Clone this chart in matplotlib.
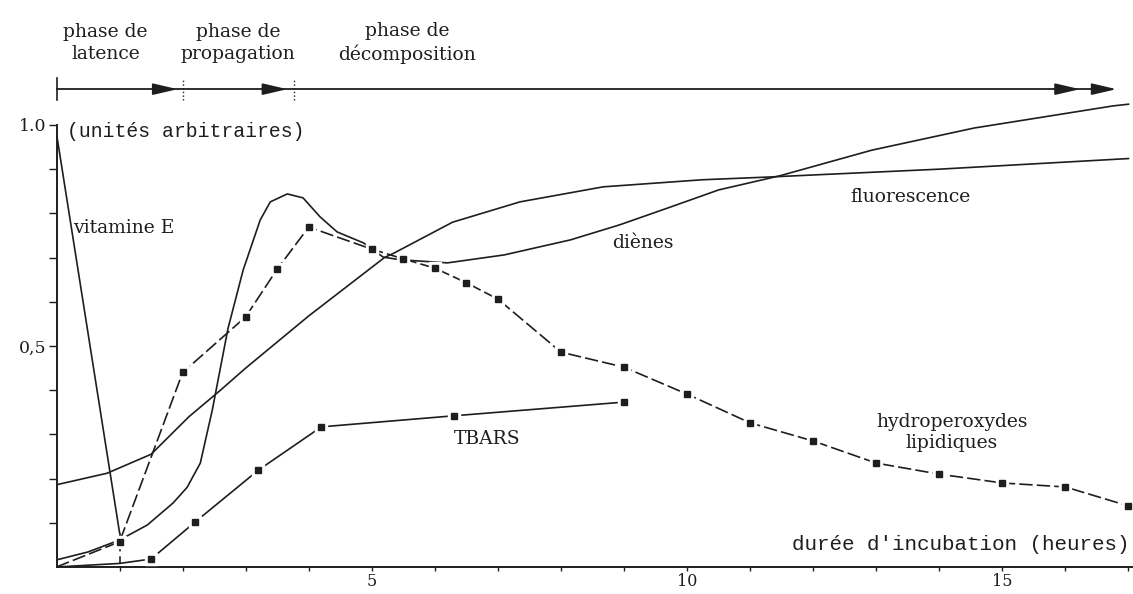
import numpy as np
import matplotlib.pyplot as plt
from matplotlib.ticker import FixedLocator, FixedFormatter, NullFormatter

# valeurs (temps en heures, unites arbitraires)
vit_t = [0, 1.0]
vit_v = [0.98, 0.077]
vit_fin_t = [1.0, 1.0]
vit_fin_v = [0.077, 0.0]

hp_t = [0, 1, 2, 3, 3.5, 4, 5, 5.5, 6, 6.5, 7, 8, 9, 10, 11, 12, 13, 14, 15, 16, 17]
hp_v = [0.0, 0.057, 0.44, 0.566, 0.674, 0.769, 0.719, 0.697, 0.676, 0.643, 0.606,
        0.486, 0.452, 0.391, 0.326, 0.285, 0.235, 0.21, 0.19, 0.181, 0.138]

tb_t = [0, 1.0, 1.5, 2.2, 3.2, 4.2, 6.3, 9.0]
tb_v = [0.0, 0.008, 0.018, 0.102, 0.219, 0.317, 0.342, 0.373]

dn_t = [0, 0.5, 1.0, 1.44, 1.85, 2.07, 2.28, 2.47, 2.72, 2.96, 3.23, 3.39, 3.66,
        3.91, 4.18, 4.45, 4.87, 5.18, 5.45, 6.2, 7.1, 8.15, 8.93, 9.73, 10.5,
        11.47, 12.93, 14.55, 16.75, 17.0]
dn_v = [0.016, 0.034, 0.061, 0.095, 0.145, 0.18, 0.235, 0.355, 0.54, 0.672, 0.785,
        0.826, 0.844, 0.835, 0.792, 0.758, 0.733, 0.701, 0.695, 0.688, 0.706, 0.74,
        0.774, 0.814, 0.853, 0.885, 0.943, 0.993, 1.043, 1.047]

fl_t = [0, 0.8, 1.5, 2.1, 2.6, 3.0, 4.0, 5.2, 5.35, 6.28, 7.35, 8.67, 10.24,
        11.26, 14.0, 17.0]
fl_v = [0.186, 0.212, 0.255, 0.34, 0.40, 0.45, 0.568, 0.70, 0.71, 0.78, 0.826,
        0.86, 0.876, 0.882, 0.90, 0.924]

phases = ['phase de\nlatence', 'phase de\npropagation', 'phase de\nd\u00e9composition']
phase_centre = [0.78, 2.88, 5.56]
phase_fin = [1.92, 3.66, 16.23, 16.81]
phase_limites = [2.0, 3.76]

ink = '#1e1e1e'
serif = 'DejaVu Serif'
mono = 'Liberation Mono'

fig = plt.figure(figsize=(11.33, 5.94), dpi=100)
ax = fig.add_axes([0.0499, 0.0455, 0.9489, 0.9376])
ax.set_xlim(0, 17.05)
ax.set_ylim(0, 1.26)

lw = 1.2
ax.plot(vit_t, vit_v, color=ink, lw=lw)
ax.plot(vit_fin_t, vit_fin_v, color=ink, lw=lw, dashes=(4, 3))
ax.plot(dn_t, dn_v, color=ink, lw=lw)
ax.plot(fl_t, fl_v, color=ink, lw=lw)
ax.plot(hp_t, hp_v, color=ink, lw=lw, dashes=(8, 2.5))
ax.plot(tb_t, tb_v, color=ink, lw=lw)

# marqueurs carres avec un petit halo blanc
for t, v in [(hp_t[1:], hp_v[1:]), (tb_t[2:], tb_v[2:])]:
    ax.plot(t, v, ls='none', marker='s', ms=8, color='white', zorder=3)
    ax.plot(t, v, ls='none', marker='s', ms=4.2, color=ink, zorder=4)

# fleche des phases
ya = 1.081
ax.plot([0, phase_fin[-1] - 0.2], [ya, ya], color=ink, lw=1.3, clip_on=False)
ax.plot([0, 0], [ya - 0.025, ya + 0.025], color=ink, lw=1.2, clip_on=False)
for xl in phase_limites:
    ax.plot([xl, xl], [ya - 0.025, ya + 0.025], color=ink, lw=1.0, ls=':', clip_on=False)
for xf in phase_fin:
    ax.annotate('', xy=(xf, ya), xytext=(xf - 0.35, ya),
                arrowprops=dict(arrowstyle='-|>,head_length=1.5,head_width=0.35',
                                color=ink, lw=1.3, shrinkA=0, shrinkB=0),
                annotation_clip=False)
for lab, xc in zip(phases, phase_centre):
    ax.text(xc, 1.185, lab, ha='center', va='center', family=serif, fontsize=13.5,
            color=ink, linespacing=1.3, multialignment='center')

# etiquettes des courbes
ax.text(0.27, 0.767, 'vitamine E', ha='left', va='center', family=serif, fontsize=13.5, color=ink)
ax.text(9.3, 0.733, 'di\u00e8nes', ha='center', va='center', family=serif, fontsize=13.5, color=ink)
ax.text(13.55, 0.837, 'fluorescence', ha='center', va='center', family=serif, fontsize=13.5, color=ink)
ax.text(6.83, 0.29, 'TBARS', ha='center', va='center', family=serif, fontsize=13.5, color=ink)
ax.text(14.2, 0.305, 'hydroperoxydes\nlipidiques', ha='center', va='center', family=serif,
        fontsize=13.5, color=ink, linespacing=1.2, multialignment='center')
ax.text(0.17, 0.985, '(unit\u00e9s arbitraires)', ha='left', va='center', family=mono,
        fontsize=14.2, color=ink)
ax.text(17.02, 0.05, "dur\u00e9e d'incubation (heures)", ha='right', va='center', family=mono,
        fontsize=15, color=ink)

# axes
for s in ['top', 'right']:
    ax.spines[s].set_visible(False)
for s in ['left', 'bottom']:
    ax.spines[s].set_linewidth(1.4)
    ax.spines[s].set_color(ink)
ax.spines['left'].set_bounds(0, 1.0)

ax.xaxis.set_major_locator(FixedLocator([5, 10, 15]))
ax.xaxis.set_major_formatter(FixedFormatter(['5', '10', '15']))
ax.xaxis.set_minor_locator(FixedLocator(np.arange(1, 18)))
ax.yaxis.set_major_locator(FixedLocator([0.5, 1.0]))
ax.yaxis.set_major_formatter(FixedFormatter(['0,5', '1.0']))
ax.yaxis.set_minor_locator(FixedLocator(np.arange(0.1, 1.0, 0.1)))
ax.yaxis.set_minor_formatter(NullFormatter())
ax.tick_params(axis='x', which='both', direction='out', length=3, width=1, color=ink,
               pad=1.5, labelsize=11.5, labelcolor=ink)
ax.tick_params(axis='y', which='both', direction='out', length=5.5, width=1, color=ink,
               pad=2, labelsize=12.5, labelcolor=ink)
for lbl in ax.get_xticklabels() + ax.get_yticklabels():
    lbl.set_family(serif)

fig.savefig('out.png', dpi=100, facecolor='white')
